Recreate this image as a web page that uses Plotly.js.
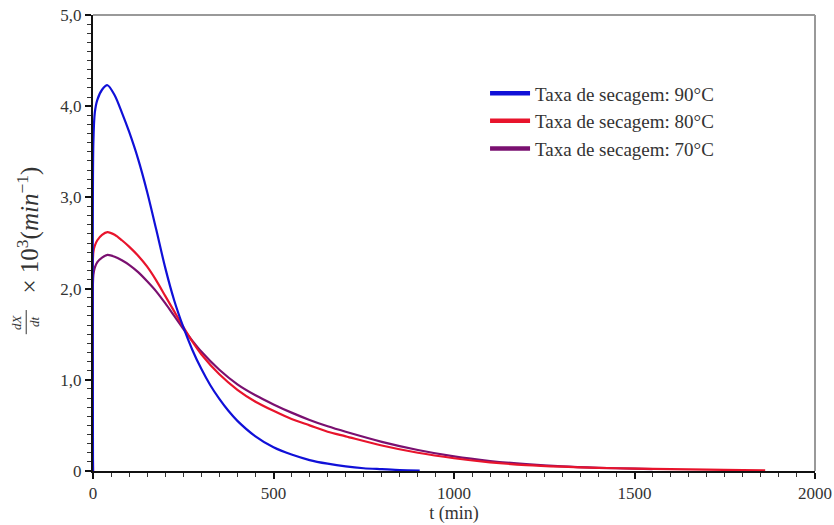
<!DOCTYPE html>
<html>
<head>
<meta charset="utf-8">
<script src="https://cdn.plot.ly/plotly-3.0.1.min.js"></script>
<style>html,body{margin:0;padding:0;background:#fff;}</style>
</head>
<body>
<div id="chart" style="width:834px;height:525px;"></div>
<script>
// time (min) and drying rate dX/dt x 10^3 (min^-1)
const t90 = [0, 1, 5, 12, 25, 40, 60, 80, 100, 125, 150, 175, 200, 225, 250, 275, 300, 325, 350, 375, 400, 450, 500, 550, 600, 650, 700, 750, 800, 850, 905];
const r90 = [0, 3.6, 3.93, 4.07, 4.18, 4.23, 4.12, 3.93, 3.72, 3.42, 3.06, 2.65, 2.23, 1.87, 1.58, 1.33, 1.12, 0.94, 0.79, 0.66, 0.55, 0.38, 0.26, 0.18, 0.12, 0.08, 0.05, 0.03, 0.02, 0.01, 0.005];

const t80 = [0, 1, 5, 12, 25, 40, 60, 80, 100, 125, 150, 175, 200, 225, 250, 275, 300, 350, 400, 450, 500, 550, 600, 650, 700, 800, 900, 1000, 1100, 1200, 1300, 1400, 1500, 1600, 1700, 1800, 1862];
const r80 = [0, 2.4, 2.47, 2.53, 2.59, 2.62, 2.59, 2.53, 2.46, 2.36, 2.24, 2.09, 1.92, 1.75, 1.58, 1.42, 1.28, 1.06, 0.89, 0.76, 0.66, 0.57, 0.5, 0.43, 0.38, 0.28, 0.2, 0.14, 0.095, 0.065, 0.047, 0.035, 0.026, 0.02, 0.015, 0.01, 0.008];

const t70 = [0, 1, 5, 12, 25, 40, 60, 80, 100, 125, 150, 175, 200, 225, 250, 275, 300, 350, 400, 450, 500, 550, 600, 650, 700, 800, 900, 1000, 1100, 1200, 1300, 1400, 1500, 1550];
const r70 = [0, 2.15, 2.23, 2.29, 2.34, 2.37, 2.35, 2.31, 2.26, 2.18, 2.08, 1.97, 1.84, 1.7, 1.56, 1.43, 1.31, 1.11, 0.95, 0.83, 0.73, 0.64, 0.56, 0.49, 0.43, 0.32, 0.23, 0.16, 0.11, 0.075, 0.05, 0.035, 0.025, 0.02];

const names = ["Taxa de secagem: 90°C", "Taxa de secagem: 80°C", "Taxa de secagem: 70°C"];
const colors = ["#1010d8", "#e8142c", "#7a1070"];

const yTickVals = [0, 1, 2, 3, 4, 5];
const yTickText = ["0", "1,0", "2,0", "3,0", "4,0", "5,0"];
const xTickVals = [0, 500, 1000, 1500, 2000];
const xTickText = ["0", "500", "1000", "1500", "2000"];

const series = [[t90, r90], [t80, r80], [t70, r70]];
const traces = [];
// draw lower temps first so blue stays on top
[2, 1, 0].forEach(i => {
  traces.push({
    x: series[i][0], y: series[i][1], type: "scatter", mode: "lines",
    line: {color: colors[i], width: 2.2, shape: "spline", smoothing: 0.8},
    showlegend: false, hoverinfo: "skip"
  });
});
// legend entries (thicker sample lines)
[0, 1, 2].forEach(i => {
  traces.push({
    x: [null], y: [null], type: "scatter", mode: "lines",
    name: names[i], line: {color: colors[i], width: 4.5}, showlegend: true
  });
});

const fam = "Liberation Serif, Times New Roman, serif";
const txt = "#333";

const layout = {
  width: 834, height: 525,
  margin: {l: 93, r: 19, t: 15, b: 54},
  paper_bgcolor: "#fff", plot_bgcolor: "#fff",
  font: {family: fam, size: 16, color: txt},
  showlegend: true,
  legend: {x: 0.543, y: 0.87, xanchor: "left", yanchor: "top", bgcolor: "rgba(0,0,0,0)",
           font: {family: fam, size: 19, color: txt}, tracegroupgap: 0, itemwidth: 40},
  xaxis: {
    range: [0, 2000], showgrid: false, zeroline: false,
    showline: true, linecolor: "#111", linewidth: 2,
    ticks: "outside", ticklen: 6, tickwidth: 2, tickcolor: "#111",
    tickvals: xTickVals, ticktext: xTickText,
    minor: {dtick: 50, ticks: "outside", ticklen: 4, tickwidth: 1, tickcolor: "#333"},
    tickfont: {family: fam, size: 17, color: txt},
    title: {text: "t (min)", font: {family: fam, size: 18, color: txt}, standoff: 0}
  },
  yaxis: {
    range: [0, 5], showgrid: false, zeroline: false,
    showline: true, linecolor: "#111", linewidth: 2,
    ticks: "outside", ticklen: 6, tickwidth: 2, tickcolor: "#111",
    tickvals: yTickVals, ticktext: yTickText,
    minor: {dtick: 0.1, ticks: "outside", ticklen: 4, tickwidth: 1, tickcolor: "#333"},
    tickfont: {family: fam, size: 17, color: txt}
  },
  annotations: [
    {xref: "paper", yref: "paper", x: -0.0907, y: 0.5285, xanchor: "center", yanchor: "middle",
     textangle: -90, showarrow: false,
     text: "× 10<sup>3</sup>(<i>min</i><sup>−1</sup>)", font: {family: fam, size: 25, color: txt}},
    {xref: "paper", yref: "paper", x: -0.1053, y: 0.3268, xanchor: "center", yanchor: "middle",
     textangle: -90, showarrow: false,
     text: "<i>dX</i>", font: {family: fam, size: 13, color: txt}},
    {xref: "paper", yref: "paper", x: -0.0803, y: 0.3268, xanchor: "center", yanchor: "middle",
     textangle: -90, showarrow: false,
     text: "<i>dt</i>", font: {family: fam, size: 13, color: txt}}
  ],
  shapes: [
    {type: "line", xref: "paper", yref: "paper", x0: 0, x1: 1, y0: 1, y1: 1, line: {color: "#999", width: 2}},
    {type: "line", xref: "paper", yref: "paper", x0: 1, x1: 1, y0: 0, y1: 1, line: {color: "#999", width: 2}},
    {type: "line", xref: "paper", yref: "paper", x0: -0.0925, x1: -0.0925, y0: 0.300, y1: 0.353, line: {color: txt, width: 1}}
  ]
};

Plotly.newPlot("chart", traces, layout, {displayModeBar: false, staticPlot: true});
</script>
</body>
</html>
